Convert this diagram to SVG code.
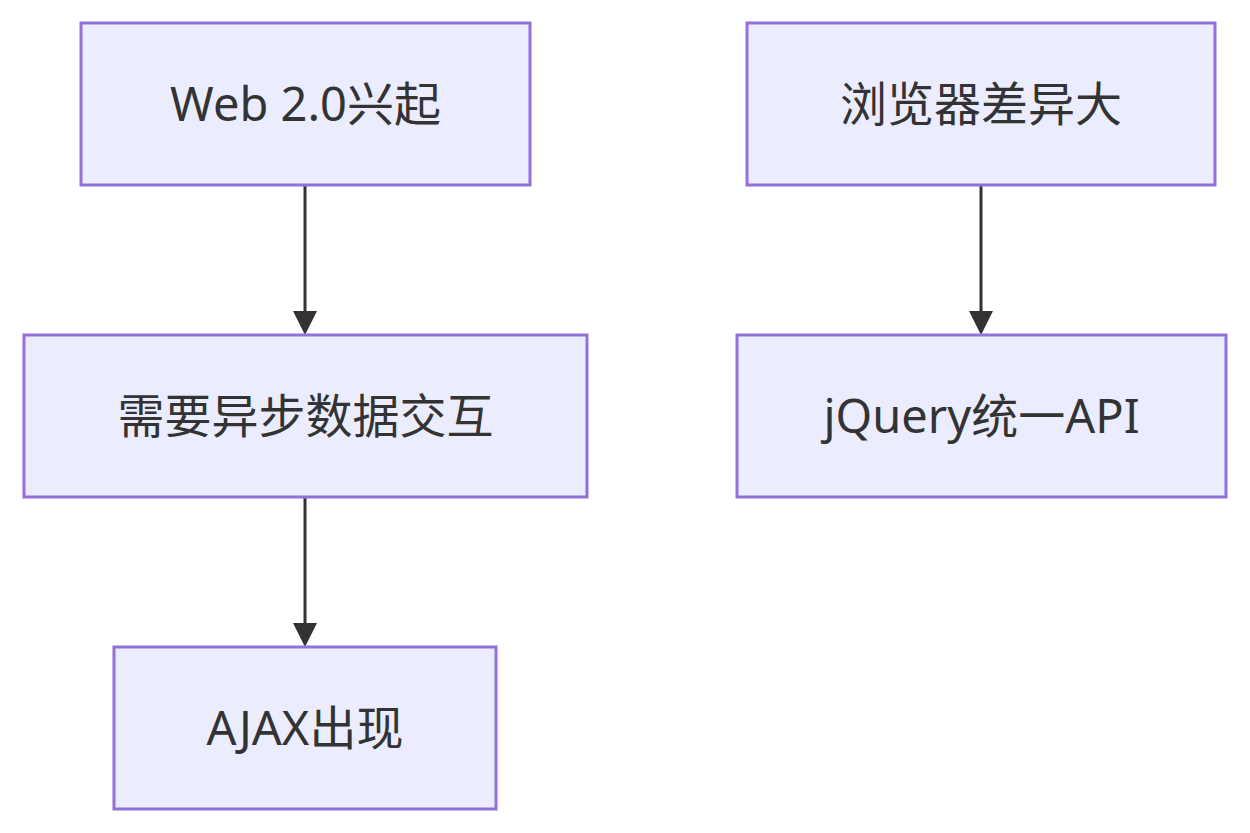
<svg xmlns="http://www.w3.org/2000/svg" width="1250" height="833" viewBox="0 0 1250 833">
<defs>
<style>
.node rect{fill:#ECECFF;stroke:#9370DB;stroke-width:3}
.node text{font-family:"Noto Sans","Noto Sans CJK SC",sans-serif;font-size:47px;fill:#333;text-anchor:middle;dominant-baseline:central}
.edge{stroke:#333;stroke-width:3;fill:none}
</style>
</defs>
<rect width="1250" height="833" fill="#fff"/>
<g id="connectors">
<line class="edge" x1="305" y1="186" x2="305" y2="312"/>
<path d="M293,311 L317,311 L305,335 z" fill="#333"/>
<line class="edge" x1="305" y1="498" x2="305" y2="624"/>
<path d="M293,623 L317,623 L305,647 z" fill="#333"/>
<line class="edge" x1="981" y1="186" x2="981" y2="312"/>
<path d="M969,311 L993,311 L981,335 z" fill="#333"/>
</g>
<g id="n1" class="node"><rect x="81" y="23" width="449" height="162"/><text x="305.5" y="103">Web 2.0兴起</text></g>
<g id="n2" class="node"><rect x="24" y="335" width="563" height="162"/><text x="305.5" y="415">需要异步数据交互</text></g>
<g id="n3" class="node"><rect x="114" y="647" width="382" height="162"/><text x="305" y="727">AJAX出现</text></g>
<g id="n4" class="node"><rect x="747" y="23" width="468" height="162"/><text x="981" y="103">浏览器差异大</text></g>
<g id="n5" class="node"><rect x="737" y="335" width="489" height="162"/><text x="981.5" y="415">jQuery统一API</text></g>
</svg>
